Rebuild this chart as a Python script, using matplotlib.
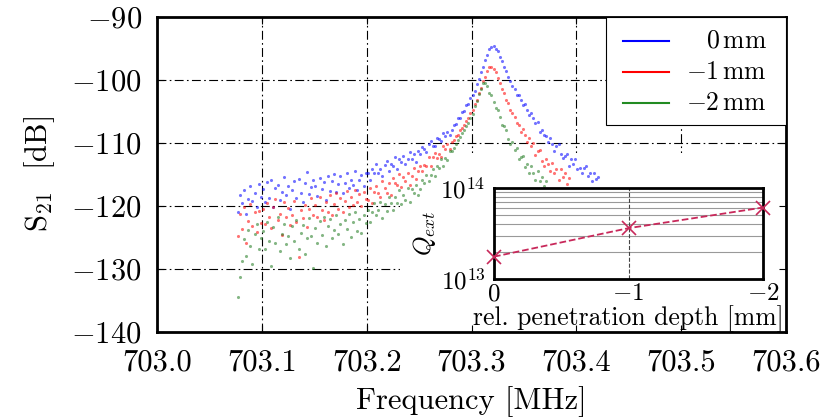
import numpy as np
import matplotlib.pyplot as plt
from matplotlib.patches import Rectangle
from matplotlib.ticker import FormatStrFormatter

plt.rcParams['font.family'] = 'serif'
plt.rcParams['font.serif'] = ['cmr10']
plt.rcParams['mathtext.fontset'] = 'cm'
plt.rcParams['axes.formatter.use_mathtext'] = True

# sweep points, kHz above 703 MHz
freq_khz = [77, 79, 81, 83, 85, 87, 89, 91, 93, 95, 97, 99,
            101, 103, 105, 107, 109, 111, 113, 115, 117, 119, 121, 123, 125,
            127, 129, 131, 133, 135, 137, 139, 141, 143, 145, 147, 149,
            151, 153, 155, 157, 159, 161, 163, 165, 167, 169, 171, 173, 175,
            177, 179, 181, 183, 185, 187, 189, 191, 193, 195, 197, 199,
            201, 203, 205, 207, 209, 211, 213, 215, 217, 219, 221, 223, 225,
            227, 229, 231, 233, 235, 237, 239, 241, 243, 245, 247, 249,
            251, 253, 255, 257, 259, 261, 263, 265, 267, 269, 271, 273, 275, 277, 279,
            281, 283, 285, 287, 289, 291, 293, 295, 297, 299,
            301, 303, 305, 307, 309, 311, 313, 315, 317, 319,
            321, 323, 325, 327, 329, 331, 333, 335, 337, 339,
            341, 343, 345, 347, 349, 351, 353, 355, 357, 359, 361, 363, 365, 367, 369,
            371, 373, 375, 377, 379, 381, 383, 385, 387, 389, 391, 393, 395,
            397, 399, 401, 403, 405, 407, 409, 411, 413, 415, 417, 419, 421]

# S21 in dB, 0 mm
s21_0mm = [-120.9, -118.2, -119.6, -117.4, -121.3, -118.9, -116.8, -119.2, -117.9, -120.1, -116.5, -118.6,
           -117.3, -119.4, -116.2, -118.8, -115.9, -120.2, -117.1, -116.6, -119.0, -117.8, -115.4, -118.3, -116.9,
           -120.4, -117.5, -116.1, -118.7, -115.7, -117.9, -119.3, -116.4, -114.6, -118.1, -117.0, -115.8,
           -116.9, -118.4, -115.6, -117.3, -116.2, -119.1, -115.3, -117.6, -116.0, -114.9, -117.8, -116.5, -115.2,
           -118.0, -116.3, -114.7, -117.1, -115.8, -116.6, -114.5, -117.4, -115.9, -115.0, -116.8, -114.8,
           -114.7, -115.8, -114.1, -114.8, -113.4, -114.8, -114.2, -115.3, -113.5, -112.9, -114.4, -113.3, -113.7,
           -112.3, -114.1, -112.5, -113.0, -112.0, -113.4, -112.5, -111.4, -112.6, -111.8, -113.0, -111.2,
           -111.8, -110.7, -111.0, -111.4, -110.2, -109.7, -110.4, -110.5, -109.2, -109.4, -109.7, -108.4, -108.9, -108.2, -108.7,
           -107.9, -107.1, -107.0, -106.1, -106.0, -105.1, -104.9, -104.0, -103.8, -102.9,
           -102.4, -101.7, -100.7, -99.9, -98.8, -98.0, -96.8, -96.1, -95.1, -94.7,
           -94.6, -95.0, -95.4, -96.4, -97.0, -98.0, -98.6, -99.6, -100.1, -101.0,
           -101.5, -102.4, -102.4, -103.1, -104.0, -103.8, -104.7, -105.6, -105.2, -106.1, -106.9, -106.6, -108.2, -107.9, -108.8,
           -108.9, -109.9, -109.2, -110.2, -111.3, -110.4, -110.2, -111.8, -112.4, -112.0, -111.7, -113.6, -112.6,
           -113.4, -112.6, -114.2, -113.9, -114.8, -113.9, -113.7, -115.2, -114.8, -116.0, -114.8, -115.7, -115.4]

# -1 mm
s21_1mm = [-124.8, -121.3, -123.6, -120.2, -125.9, -122.4, -119.7, -123.1, -121.0, -124.2, -120.8, -122.7,
           -120.5, -122.9, -119.6, -121.8, -123.5, -120.1, -118.9, -122.3, -121.2, -124.6, -119.4, -121.7, -120.3,
           -123.0, -121.5, -119.2, -122.6, -128.1, -120.7, -121.9, -119.8, -123.3, -120.4, -118.7, -121.4,
           -119.9, -121.8, -118.6, -120.7, -122.3, -119.3, -120.9, -118.2, -121.4, -119.7, -117.9, -120.5, -118.8,
           -121.0, -119.2, -117.6, -120.1, -118.5, -119.8, -117.4, -119.3, -118.1, -120.0, -117.7, -118.9,
           -119.0, -117.1, -119.5, -117.7, -116.9, -117.9, -118.6, -116.0, -117.1, -117.9, -116.3, -118.3, -115.6,
           -116.3, -116.7, -114.9, -117.0, -115.4, -116.0, -114.8, -116.6, -115.3, -114.0, -115.7, -114.4,
           -113.6, -114.5, -113.5, -113.6, -112.2, -113.6, -112.3, -111.6, -112.4, -111.7, -112.2, -110.4, -111.0, -110.2, -110.9,
           -109.9, -109.6, -108.9, -108.7, -108.0, -107.6, -107.1, -106.5, -106.0, -105.3,
           -104.8, -103.8, -103.1, -102.0, -101.3, -100.2, -99.5, -98.5, -98.0,
           -97.9, -98.3, -98.7, -99.7, -100.4, -101.5, -102.1, -103.1, -103.7, -104.7, -105.3,
           -105.8, -106.9, -107.1, -108.2, -107.8, -108.7, -109.8, -109.2, -110.4, -110.0, -111.9, -111.3, -111.1, -112.9,
           -113.7, -112.5, -113.4, -114.5, -113.1, -114.7, -114.1, -115.8, -114.2, -115.4, -114.8, -116.5, -115.5]

# -2 mm
s21_2mm = [-134.4, -131.3, -128.7, -125.2, -127.9, -123.8, -126.4, -129.2, -124.5, -122.9, -126.9, -125.1,
           -124.0, -126.8, -122.6, -125.5, -129.6, -123.4, -125.9, -121.8, -127.2, -124.4, -122.9, -126.1, -124.8,
           -128.3, -123.1, -125.6, -122.2, -126.9, -124.3, -123.0, -127.6, -125.0, -121.9, -124.7, -129.8,
           -123.5, -125.8, -122.4, -124.6, -121.7, -126.3, -123.2, -122.0, -125.1, -123.8, -121.5, -124.4, -122.8,
           -126.0, -122.3, -123.6, -121.2, -124.9, -122.6, -121.0, -123.9, -122.1, -124.3, -121.4, -122.7,
           -120.6, -122.6, -121.0, -119.5, -121.4, -120.7, -119.4, -121.9, -119.7, -120.8, -118.5, -119.6, -120.6,
           -118.5, -119.5, -117.5, -119.7, -118.2, -119.1, -117.2, -119.4, -117.3, -117.9, -116.7, -118.2,
           -117.3, -115.9, -116.3, -115.0, -116.1, -115.0, -114.2, -115.3, -113.7, -114.0, -112.6, -113.6, -112.4, -112.7, -111.3,
           -111.3, -110.8, -110.2, -109.6, -109.0, -108.4, -107.9, -107.3, -106.8, -106.1,
           -105.4, -104.2, -103.4, -102.2, -101.5, -100.5,
           -100.4, -100.9, -102.0, -102.4, -103.5, -104.5, -104.7, -105.9, -107.1, -107.3, -107.9, -109.3, -110.2, -109.8, -111.1,
           -110.8, -112.6, -112.3, -112.1, -113.8, -113.3, -114.8, -113.7, -114.7, -115.9, -114.5, -116.0, -115.4, -116.8, -116.1]

labels = [r'$0\,\mathrm{mm}$', r'$-1\,\mathrm{mm}$', r'$-2\,\mathrm{mm}$']
colors = ['#0000ff', '#ff0000', '#1f7a1f']
line_colors = ['#0000ff', '#ff0000', '#228b22']

x_ticks = [703.0, 703.1, 703.2, 703.3, 703.4, 703.5, 703.6]
y_ticks = [-140, -130, -120, -110, -100, -90]

# inset: external Q vs penetration depth
depth_mm = [0, -1, -2]
q_ext = [1.76e13, 3.62e13, 6.1e13]

freq = 703.0 + np.array(freq_khz) / 1000.0

fig = plt.figure(figsize=(8.37, 4.2), dpi=100)
ax = fig.add_axes([0.1876, 0.2095, 0.7515, 0.75])

for s21, c in zip([s21_0mm, s21_1mm, s21_2mm], colors):
    ax.scatter(freq[:len(s21)], s21, s=5, color=c, alpha=0.55, linewidths=0, zorder=5)

ax.set_xlim(x_ticks[0], x_ticks[-1])
ax.set_ylim(y_ticks[0], y_ticks[-1])
ax.set_xticks(x_ticks)
ax.set_yticks(y_ticks)
ax.xaxis.set_major_formatter(FormatStrFormatter('%.1f'))
ax.tick_params(direction='in', top=True, right=True, length=5, width=0.8, labelsize=22)
ax.tick_params(axis='x', pad=12)
ax.tick_params(axis='y', pad=11)
for sp in ax.spines.values():
    sp.set_linewidth(2)
    sp.set_zorder(4)
ax.xaxis.set_zorder(4)
ax.yaxis.set_zorder(4)

dash = (0, (8, 3, 1.5, 3))
for x in x_ticks[1:-1]:
    ax.axvline(x, color='k', lw=0.8, ls=dash, zorder=1)
for y in y_ticks[1:-1]:
    ax.axhline(y, color='k', lw=0.8, ls=dash, zorder=1)

ax.set_xlabel('Frequency [MHz]', fontsize=22, labelpad=7)
ax.set_ylabel(r'$\mathrm{S}_{21}$  [dB]', fontsize=22, labelpad=10)

# white backing for the inset
ax.add_patch(Rectangle((0.386, 0.0), 0.614, 0.568, transform=ax.transAxes,
                       facecolor='white', edgecolor='none', zorder=3))

# legend
ax.add_patch(Rectangle((0.714, 0.657), 0.286, 0.343, transform=ax.transAxes,
                       facecolor='white', edgecolor='black', lw=0.8, zorder=6))
for lab, c, yy in zip(labels, line_colors, [0.924, 0.825, 0.727]):
    ax.plot([0.741, 0.814], [yy, yy], transform=ax.transAxes, color=c, lw=1.5, zorder=7)
    ax.text(0.970, yy, lab, transform=ax.transAxes, ha='right', va='center',
            fontsize=18.5, zorder=7)

axin = fig.add_axes([0.5902, 0.3357, 0.3214, 0.2167])
axin.plot(depth_mm, q_ext, ls='--', color='#c8285a', marker='x', ms=10, mew=1.2,
          lw=1.3, clip_on=False, zorder=5)
axin.set_yscale('log')
axin.set_ylim(1e13, 1e14)
axin.set_xlim(0, -2)
axin.set_xticks(depth_mm)
axin.yaxis.grid(True, which='minor', color='#999999', lw=0.8)
axin.axvline(-1, color='#444444', ls='--', lw=0.8)
axin.tick_params(which='both', length=0, labelsize=18)
axin.tick_params(axis='y', pad=6)
axin.tick_params(axis='x', pad=3)
for sp in axin.spines.values():
    sp.set_linewidth(2)
axin.set_ylabel(r'$Q_{ext}$', fontsize=18, labelpad=2)
axin.set_xlabel('rel. penetration depth [mm]', fontsize=18.5, labelpad=0)

fig.savefig('out.png', dpi=100)
